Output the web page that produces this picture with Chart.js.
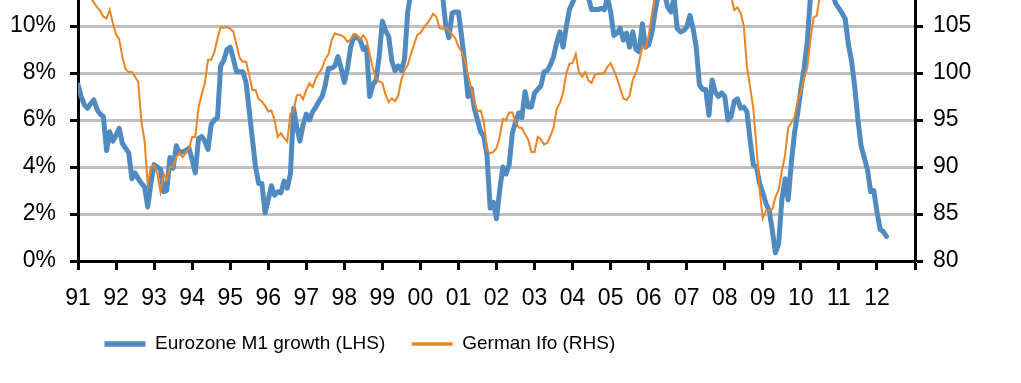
<!DOCTYPE html>
<html><head><meta charset="utf-8">
<script src="https://cdn.jsdelivr.net/npm/chart.js"></script>
<style>
html,body{margin:0;padding:0;background:#fff;}
#wrap{position:relative;width:1021px;height:383px;overflow:hidden;background:#fff;}
#box{position:absolute;left:0;top:-61px;width:1021px;height:444px;}
</style></head><body>
<div id="wrap"><div id="box"><canvas id="c" width="1021" height="444"></canvas></div></div>
<script>
// ---- data (monthly, starting Jan 1991) ----
const startYear = 1991;
const endYear = 2013;
const seriesNames = ['Eurozone M1 growth (LHS)', 'German Ifo (RHS)'];

// Eurozone M1 growth, % y/y (left axis)
const m1Growth = [
  7.5, 7.0, 6.65, 6.5, 6.7, 6.85, 6.45, 6.25, 6.15, 4.7, 5.5, 5.1,
  5.35, 5.65, 5.0, 4.8, 4.6, 3.5, 3.75, 3.5, 3.3, 3.15, 2.3, 3.3,
  4.1, 4.0, 3.9, 2.95, 3.0, 4.4, 3.95, 4.9, 4.6, 4.65, 4.7, 4.8,
  4.3, 3.75, 5.2, 5.3, 5.1, 4.75, 5.8, 6.0, 6.1, 8.3, 8.55, 9.0,
  9.1, 8.6, 8.05, 8.05, 8.05, 7.6, 6.4, 5.2, 4.0, 3.3, 3.3, 2.05,
  2.6, 3.2, 2.8, 2.95, 2.9, 3.4, 3.1, 3.7, 6.5, 5.7, 5.1, 5.8,
  6.25, 6.0, 6.35, 6.55, 6.8, 7.0, 7.5, 8.2, 8.2, 8.3, 8.7, 8.2,
  7.6, 8.2, 9.1, 9.55, 9.5, 9.4, 9.0, 9.1, 7.0, 7.5, 7.7, 8.7,
  10.2, 9.8, 9.55, 8.5, 8.1, 8.3, 8.1, 8.6, 10.6, 11.4, 11.8, 12.0,
  12.2, 12.0, 11.8, 11.6, 11.5, 11.4, 11.3, 11.3, 10.0, 9.5, 10.55, 10.6,
  10.6, 9.55, 8.4, 7.0, 7.35, 6.5, 6.0, 5.5, 5.3, 4.5, 2.25, 2.5,
  1.8, 3.0, 4.0, 3.7, 4.1, 5.45, 5.9, 6.3, 6.1, 7.2, 6.55, 6.55,
  7.15, 7.3, 7.45, 8.05, 8.1, 8.35, 8.7, 9.3, 9.75, 9.1, 9.95, 10.7,
  11.0, 11.3, 11.4, 11.5, 11.3, 11.2, 10.7, 10.7, 10.7, 10.75, 10.7, 11.2,
  10.6, 9.6, 9.7, 9.9, 9.4, 9.7, 9.1, 9.75, 9.0, 8.9, 10.1, 9.1,
  9.2, 9.7, 10.6, 11.3, 11.6, 11.4, 10.8, 10.6, 11.2, 9.9, 9.75, 9.8,
  9.95, 10.45, 9.9, 9.1, 7.5, 7.3, 7.3, 6.2, 7.7, 7.2, 7.0, 7.15,
  7.0, 6.0, 6.15, 6.8, 6.9, 6.5, 6.55, 6.35, 5.15, 4.1, 4.0, 3.3,
  2.9, 2.45, 2.15, 1.3, 0.35, 0.75, 2.6, 3.5, 2.6, 4.2, 5.45, 6.3,
  7.3, 8.2, 9.3, 11.2, 11.8, 12.2, 12.4, 12.5, 12.3, 11.9, 11.4, 10.95,
  10.75, 10.55, 10.3, 9.2, 8.5, 7.4, 6.0, 4.9, 4.4, 3.9, 2.95, 3.0,
  2.1, 1.35, 1.25, 1.05
];

// German Ifo business climate index (right axis)
const germanIfo = [
  110.0, 109.5, 109.0, 108.5, 108.0, 107.5, 107.0, 106.6, 106.0, 105.8, 106.7, 105.3,
  104.1, 103.6, 101.7, 100.4, 100.1, 100.1, 99.6, 99.05, 94.8, 92.8, 88.1, 90.0,
  90.2, 89.35, 87.35, 89.3, 88.6, 90.0, 90.0, 91.05, 91.5, 91.05, 91.5, 92.0,
  93.2, 93.2, 96.3, 97.7, 98.9, 101.4, 101.4, 102.2, 103.7, 104.9, 104.8, 104.9,
  104.7, 104.4, 103.0, 101.6, 101.2, 101.2, 99.8, 98.2, 98.2, 97.2, 97.0, 96.5,
  95.9, 96.0, 95.0, 93.2, 93.6, 93.1, 92.7, 95.7, 96.0, 97.6, 97.7, 97.2,
  98.2, 98.9, 98.5, 99.4, 100.0, 100.5, 101.5, 102.0, 103.5, 104.2, 104.1, 104.0,
  103.8, 103.3, 103.6, 104.15, 104.05, 103.6, 104.0, 103.5, 102.0, 100.5, 99.4, 99.1,
  98.95, 97.7, 96.9, 97.3, 97.0, 97.6, 99.3, 100.3, 100.85, 102.0, 103.0, 104.05,
  104.25, 104.8, 105.2, 105.7, 106.3, 106.0, 104.8, 104.7, 104.85, 104.5, 104.1, 103.7,
  102.8, 102.3, 101.3, 99.8, 98.4, 97.0, 95.9, 96.0, 94.8, 91.8, 91.45, 91.6,
  92.0, 93.2, 95.1, 95.0, 95.8, 95.8, 94.8, 94.2, 94.15, 93.5, 92.9, 91.6,
  91.6, 93.2, 92.95, 92.4, 92.55, 93.3, 94.2, 96.2, 96.8, 97.9, 99.9, 101.0,
  101.05, 102.0, 100.1, 99.6, 100.1, 99.2, 98.95, 99.8, 99.9, 99.95, 100.0, 100.65,
  101.05, 100.3, 99.45, 98.4, 97.3, 97.1, 97.6, 99.3, 100.0, 101.2, 102.8, 102.6,
  104.0, 106.2, 108.3, 108.9, 109.2, 109.5, 109.8, 110.2, 110.4, 110.6, 110.3, 110.5,
  110.8, 110.4, 110.0, 109.6, 109.8, 109.2, 109.0, 108.8, 108.9, 108.6, 108.4, 108.5,
  108.6, 108.4, 108.2, 106.7, 107.0, 106.4, 105.0, 100.65, 98.5, 96.25, 92.1, 87.5,
  84.55, 85.4, 85.4, 85.5, 86.8, 87.6, 89.6, 91.2, 94.2, 94.7, 95.3, 97.1,
  98.0, 99.45, 100.5, 103.5, 105.9, 106.1, 108.2, 109.0, 109.8, 110.5, 111.0, 111.5,
  111.8, 111.2, 110.8, 110.4, 110.2, 109.6, 109.2, 108.8, 108.5, 108.3, 108.4, 108.6,
  108.9, 109.1, 109.4, 109.2
];

// ---- styling / layout ----
const blue = '#4F8AC1';
const orange = '#EB8423';
const tickFont = { family: '"Liberation Sans", Arial, sans-serif', size: 23 };
const legendFontSize = 19;
const legendFamily = '"Liberation Sans", Arial, sans-serif';

const T = 61, H = 444;                 // canvas shifted up so the plot top sits above the frame
const plotLeft = 78, plotRight = 915;
const plotBottom = 261 + T;
const legendCenter = 344 + T;
const xAxisMinH = 47;

const mctx = document.createElement('canvas').getContext('2d');
mctx.font = legendFontSize + 'px ' + legendFamily;
const w1 = mctx.measureText(seriesNames[0]).width;
const sampleW = 41;
const Pfit = (414 - plotLeft - sampleW - legendFontSize / 2 - w1) / 2;
const Pmax = legendCenter - legendFontSize / 2 - (plotBottom + xAxisMinH);
const P = Math.max(6, Math.min(Pfit, Pmax));
const legendTop = legendCenter - P - legendFontSize / 2;
const xAxisH = legendTop - plotBottom;
const legendH = legendFontSize + P + 10;
const padBottom = H - (legendTop + legendH);

const toPoints = (arr) => arr.map((v, i) => ({ x: startYear + i / 12, y: v }));

new Chart(document.getElementById('c'), {
  type: 'line',
  data: {
    datasets: [
      { label: seriesNames[0], data: toPoints(m1Growth), yAxisID: 'y', borderColor: blue, backgroundColor: blue,
        borderWidth: 5, pointRadius: 0, tension: 0, borderJoinStyle: 'round', borderCapStyle: 'round', order: 1 },
      { label: seriesNames[1], data: toPoints(germanIfo), yAxisID: 'y1', borderColor: orange, backgroundColor: orange,
        borderWidth: 2, pointRadius: 0, tension: 0, order: 0 }
    ]
  },
  options: {
    responsive: false, animation: false, devicePixelRatio: 1,
    layout: { padding: { left: 0, right: 0, top: 40, bottom: padBottom } },
    plugins: {
      tooltip: { enabled: false },
      legend: {
        position: 'bottom', align: 'start', fullSize: false,
        labels: {
          usePointStyle: true, pointStyle: 'line', pointStyleWidth: sampleW, boxHeight: 6,
          padding: P, color: '#000',
          font: { family: legendFamily, size: legendFontSize },
          sort: (a, b) => a.datasetIndex - b.datasetIndex,
          generateLabels: (chart) => {
            const items = Chart.defaults.plugins.legend.labels.generateLabels(chart);
            items.forEach(it => { it.lineWidth = it.datasetIndex === 0 ? 5.5 : 3.5; it.pointStyle = 'line'; });
            return items;
          }
        }
      }
    },
    scales: {
      x: {
        type: 'linear', position: 'bottom', min: startYear, max: endYear,
        afterFit: (s) => { s.height = xAxisH; },
        ticks: { stepSize: 1, autoSkip: false, maxRotation: 0, padding: 15, color: '#000', font: tickFont,
          callback: (v) => (v === endYear ? '' : String(v).slice(2)) },
        grid: { drawOnChartArea: false, tickLength: 9, tickColor: '#000', tickWidth: 3 },
        border: { color: '#000', width: 3 }
      },
      y: {
        position: 'left', min: 0, max: 12,
        afterFit: (s) => { s.width = plotLeft; },
        ticks: { stepSize: 2, padding: 14, color: '#000', font: tickFont, callback: (v) => v + '%' },
        grid: { color: '#BFBFBF', lineWidth: 3, tickLength: 8, tickColor: '#000', tickWidth: 3 },
        border: { color: '#000', width: 3 }
      },
      y1: {
        position: 'right', min: 80, max: 110,
        afterFit: (s) => { s.width = 1021 - plotRight; },
        ticks: { stepSize: 5, padding: 10, color: '#000', font: tickFont },
        grid: { drawOnChartArea: false, tickLength: 8, tickColor: '#000', tickWidth: 3 },
        border: { color: '#000', width: 3 }
      }
    }
  }
});
</script>
</body></html>
